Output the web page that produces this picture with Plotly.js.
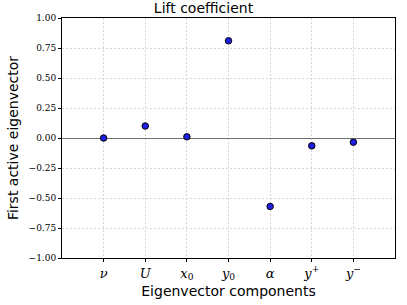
<!DOCTYPE html>
<html><head><meta charset="utf-8">
<script src="https://cdn.plot.ly/plotly-3.0.1.min.js"></script>
<style>html,body{margin:0;padding:0;background:#fff;}</style>
</head><body>
<div id="chart" style="width:407px;height:305px;"></div>
<script>
const categories = ["ν", "U", "x0", "y0", "α", "y+", "y−"];
const tickLabels = ["<i>ν</i>", "<i>U</i>", "<i>x</i><sub>0</sub>", "<i>y</i><sub>0</sub>", "<i>α</i>", "<i>y</i><sup>+</sup>", "<i>y</i><sup>−</sup>"];
const positions = [1, 2, 3, 4, 5, 6, 7];
const eigenvector = [0.00, 0.10, 0.01, 0.81, -0.57, -0.065, -0.035];
const yTicks = [-1.00, -0.75, -0.50, -0.25, 0.00, 0.25, 0.50, 0.75, 1.00];

const trace = {
  x: positions, y: eigenvector, mode: "markers", type: "scatter",
  text: categories,
  marker: {color: "#1f1fe6", size: 6.5, line: {color: "#000", width: 1}},
  showlegend: false, cliponaxis: false
};
const layout = {
  width: 407, height: 305,
  margin: {l: 62, r: 12, t: 18, b: 47},
  paper_bgcolor: "#fff", plot_bgcolor: "#fff",
  title: {text: "Lift coefficient", font: {family: "DejaVu Sans", size: 14, color: "#000"}, x: 0.5, xanchor: "center", y: 0.99, yanchor: "top"},
  xaxis: {
    range: [0, 8], tickvals: positions, ticktext: tickLabels,
    showgrid: true, gridcolor: "#cccccc", griddash: "2px,2px", gridwidth: 0.8,
    zeroline: false, showline: true, linecolor: "#000", linewidth: 1, mirror: true,
    ticks: "outside", ticklen: 3, tickcolor: "#000",
    tickfont: {family: "DejaVu Serif", size: 13, color: "#000"},
    title: {text: "Eigenvector components", font: {family: "DejaVu Sans", size: 14, color: "#000"}, standoff: 4}
  },
  yaxis: {
    range: [-1, 1], tickvals: yTicks, tickformat: ".2f",
    showgrid: true, gridcolor: "#cccccc", griddash: "2px,2px", gridwidth: 0.8,
    zeroline: true, zerolinecolor: "#707070", zerolinewidth: 1,
    showline: true, linecolor: "#000", linewidth: 1, mirror: true,
    ticks: "outside", ticklen: 3, tickcolor: "#000",
    tickfont: {family: "DejaVu Serif", size: 9, color: "#000"},
    title: {text: "First active eigenvector", font: {family: "DejaVu Sans", size: 14, color: "#000"}, standoff: 6}
  }
};
Plotly.newPlot("chart", [trace], layout, {displayModeBar: false, staticPlot: true});
</script>
</body></html>
